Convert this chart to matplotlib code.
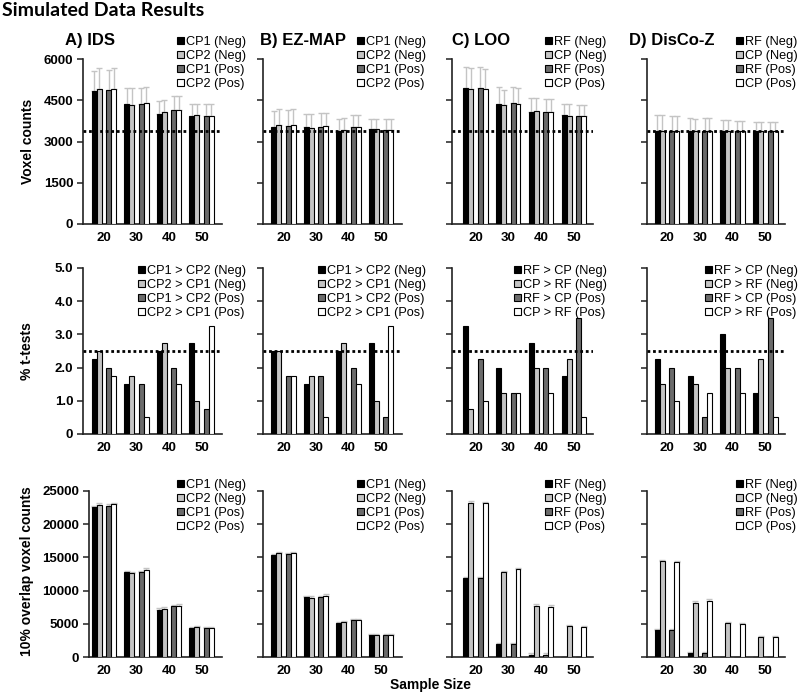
import numpy as np
import matplotlib
matplotlib.use("Agg")
import matplotlib.pyplot as plt

plt.rcParams['font.family'] = ['Liberation Sans', 'DejaVu Sans']

# ---------------- data ----------------
sample_sizes = ["20", "30", "40", "50"]
methods = ["A) IDS", "B) EZ-MAP", "C) LOO", "D) DisCo-Z"]

labels_cp = ["CP1 (Neg)", "CP2 (Neg)", "CP1 (Pos)", "CP2 (Pos)"]
labels_rf = ["RF (Neg)", "CP (Neg)", "RF (Pos)", "CP (Pos)"]
labels_t_cp = ["CP1 > CP2 (Neg)", "CP2 > CP1 (Neg)", "CP1 > CP2 (Pos)", "CP2 > CP1 (Pos)"]
labels_t_rf = ["RF > CP (Neg)", "CP > RF (Neg)", "RF > CP (Pos)", "CP > RF (Pos)"]

# Row 1: voxel counts (mean) and upper error
vox_ids = [[4820, 4360, 4010, 3940], [4900, 4340, 4060, 3960],
           [4870, 4350, 4150, 3940], [4920, 4400, 4160, 3930]]
vox_ids_err = [[760, 585, 470, 435], [770, 605, 460, 415],
               [740, 595, 490, 420], [750, 600, 480, 430]]
vox_ez = [[3540, 3520, 3390, 3445], [3600, 3505, 3420, 3445],
          [3565, 3515, 3515, 3420], [3610, 3550, 3530, 3420]]
vox_ez_err = [[565, 465, 415, 385], [600, 480, 420, 385],
              [565, 530, 435, 385], [580, 495, 420, 385]]
vox_loo = [[4945, 4370, 4090, 3950], [4895, 4310, 4105, 3935],
           [4945, 4390, 4080, 3925], [4895, 4380, 4070, 3910]]
vox_loo_err = [[780, 610, 495, 420], [770, 550, 480, 435],
               [780, 580, 480, 420], [745, 575, 490, 435]]
vox_dz = [[3385, 3380, 3385, 3380], [3385, 3375, 3385, 3385],
          [3380, 3385, 3385, 3375], [3385, 3385, 3385, 3380]]
vox_dz_err = [[575, 460, 395, 340], [575, 430, 395, 335],
              [545, 480, 370, 335], [540, 480, 370, 315]]
vox_ref = 3390

# Row 2: % t-tests
tt_ids = [[2.25, 1.5, 2.5, 2.75], [2.5, 1.75, 2.75, 1.0],
          [2.0, 1.5, 2.0, 0.75], [1.75, 0.5, 1.5, 3.25]]
tt_ez = [[2.5, 1.5, 2.5, 2.75], [2.5, 1.75, 2.75, 1.0],
         [1.75, 1.75, 2.0, 0.5], [1.75, 0.5, 1.5, 3.25]]
tt_loo = [[3.25, 2.0, 2.75, 1.75], [0.75, 1.25, 2.0, 2.25],
          [2.25, 1.25, 2.0, 3.5], [1.0, 1.25, 1.25, 0.5]]
tt_dz = [[2.25, 1.75, 3.0, 1.25], [1.5, 1.5, 2.0, 2.25],
         [2.0, 0.5, 2.0, 3.5], [1.0, 1.25, 1.25, 0.5]]
tt_ref = 2.5

# Row 3: 10% overlap voxel counts
ov_ids = [[22600, 12750, 7150, 4400], [22950, 12650, 7300, 4450],
          [22800, 12750, 7700, 4400], [23050, 13150, 7750, 4400]]
ov_ez = [[15300, 9050, 5150, 3250], [15650, 8950, 5250, 3250],
         [15450, 9000, 5500, 3250], [15650, 9250, 5600, 3250]]
ov_loo = [[11850, 1900, 350, 0], [23250, 12750, 7750, 4600],
          [11850, 1900, 350, 0], [23150, 13200, 7600, 4500]]
ov_dz = [[4000, 550, 0, 0], [14500, 8200, 5050, 3050],
         [4000, 600, 0, 0], [14350, 8500, 4950, 2950]]
ov_err = 180

# ---------------- layout ----------------
W, H = 800, 694
fig = plt.figure(figsize=(W / 100, H / 100), dpi=100)

colors = ["#000000", "#c4c4c4", "#6b6b6b", "#ffffff"]
offsets = [-0.295, -0.145, 0.145, 0.295]
bw = 0.15

col_left = [83, 263, 452, 647]
col_right = [222, 402, 593, 785]
col_c0 = [104, 283.5, 475.5, 667]
col_sp = [32.5, 32.5, 32.8, 32.8]
row_top = [59, 268, 491]
row_bot = [224, 434, 657]
leg_right = [246, 426, 607, 798]
leg_top = [36, 265, 479]

rows = [
    dict(data=[vox_ids, vox_ez, vox_loo, vox_dz],
         err=[vox_ids_err, vox_ez_err, vox_loo_err, vox_dz_err],
         labels=[labels_cp, labels_cp, labels_rf, labels_rf],
         ylim=6000, yticks=[0, 1500, 3000, 4500, 6000],
         yticklabels=["0", "1500", "3000", "4500", "6000"], ref=vox_ref,
         ylabel="Voxel counts"),
    dict(data=[tt_ids, tt_ez, tt_loo, tt_dz], err=None,
         labels=[labels_t_cp, labels_t_cp, labels_t_rf, labels_t_rf],
         ylim=5.0, yticks=[0, 1, 2, 3, 4, 5],
         yticklabels=["0", "1.0", "2.0", "3.0", "4.0", "5.0"], ref=tt_ref,
         ylabel="% t-tests"),
    dict(data=[ov_ids, ov_ez, ov_loo, ov_dz], err="small",
         labels=[labels_cp, labels_cp, labels_rf, labels_rf],
         ylim=25000, yticks=[0, 5000, 10000, 15000, 20000, 25000],
         yticklabels=["0", "5000", "10000", "15000", "20000", "25000"], ref=None,
         ylabel="10% overlap voxel counts"),
]

x = np.arange(len(sample_sizes))

for r, row in enumerate(rows):
    for c in range(4):
        left = col_left[c]
        if r == 2 and c == 0:
            left = 89
        right = col_right[c]
        ax = fig.add_axes([left / W, 1 - row_bot[r] / H, (right - left) / W,
                           (row_bot[r] - row_top[r]) / H])
        c0, sp = col_c0[c], col_sp[c]
        ax.set_xlim((left - c0) / sp, (right - c0) / sp)
        ax.set_ylim(0, row["ylim"])
        handles = []
        series = row["data"][c]
        for k in range(4):
            vals = np.array(series[k], dtype=float)
            b = ax.bar(x + offsets[k], vals, width=bw, color=colors[k],
                       edgecolor="black", linewidth=0.8, zorder=3,
                       label=row["labels"][c][k])
            handles.append(b)
            if row["err"] is not None:
                if row["err"] == "small":
                    e = np.where(vals > 0, ov_err, 0)
                else:
                    e = np.array(row["err"][c][k], dtype=float)
                ax.errorbar(x + offsets[k], vals, yerr=[np.zeros_like(e), e],
                            fmt="none", ecolor="#c4c4c4", elinewidth=1.0,
                            capsize=2.2, capthick=1.0, zorder=2)
        if row["ref"] is not None:
            ax.axhline(row["ref"], color="black", linestyle=(0, (1, 1)),
                       linewidth=2.0, zorder=4)
        for s in ["top", "right"]:
            ax.spines[s].set_visible(False)
        for s in ["left", "bottom"]:
            ax.spines[s].set_linewidth(1.2)
            ax.spines[s].set_color("#222222")
        ax.set_xticks(x)
        ax.set_xticklabels(sample_sizes, fontsize=9.5, fontweight="bold")
        ax.tick_params(axis="x", length=0, pad=6)
        ax.set_yticks(row["yticks"])
        if c == 0:
            ax.set_yticklabels(row["yticklabels"], fontsize=9.5, fontweight="bold")
        else:
            ax.set_yticklabels([])
        ax.tick_params(axis="y", length=4, width=1.1, pad=3, color="#222222")
        ax.patch.set_visible(False)
        ax.legend(handles=handles, loc="upper right",
                  bbox_to_anchor=(leg_right[c] / W, 1 - leg_top[r] / H),
                  bbox_transform=fig.transFigure, frameon=False,
                  fontsize=9.2, handlelength=0.55, handleheight=0.55,
                  handletextpad=0.15, labelspacing=0.16, borderpad=0,
                  borderaxespad=0)

# row labels
fig.text(28 / W, 1 - 141 / H, "Voxel counts", rotation=90, ha="center",
         va="center", fontsize=10, fontweight="bold")
fig.text(27 / W, 1 - 351 / H, "% t-tests", rotation=90, ha="center",
         va="center", fontsize=10, fontweight="bold")
fig.text(27 / W, 1 - 571 / H, "10% overlap voxel counts", rotation=90,
         ha="center", va="center", fontsize=10, fontweight="bold")

# panel titles
title_x = [65, 260, 452, 629]
for c in range(4):
    fig.text(title_x[c] / W, 1 - 40 / H, methods[c], ha="left", va="center",
             fontsize=12, fontweight="bold")

fig.text(2 / W, 1 - 11 / H, "Simulated Data Results", ha="left", va="center",
         fontsize=14, fontweight="bold", family=["Lato", "DejaVu Sans"])

fig.text(431 / W, 1 - 685 / H, "Sample Size", ha="center", va="center",
         fontsize=10, fontweight="bold")

fig.savefig("out.png", dpi=100)
